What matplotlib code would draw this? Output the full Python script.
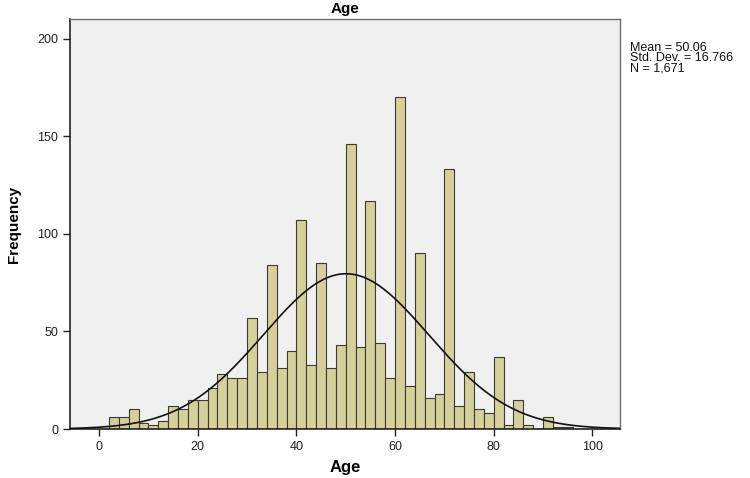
import numpy as np
import matplotlib
matplotlib.use("Agg")
import matplotlib.pyplot as plt

plt.rcParams['font.family'] = ['Liberation Sans', 'DejaVu Sans']

# histogram of Age, bins of width 2 starting at 2
bin_starts = list(range(2, 96, 2))
counts = [6, 6, 10, 3, 2, 4, 12, 10, 15, 15, 21, 28, 26, 26, 57, 29, 84, 31,
          40, 107, 33, 85, 31, 43, 146, 42, 117, 44, 26, 170, 22, 90, 16, 18,
          133, 12, 29, 10, 8, 37, 2, 15, 2, 0, 6, 1, 1]
bin_width = 2
mean = 50.06
std = 16.766
n = 1671

x_ticks = [0, 20, 40, 60, 80, 100]
y_ticks = [0, 50, 100, 150, 200]

fig = plt.figure(figsize=(7.5, 4.78), dpi=100)
ax = fig.add_axes([70 / 750, 49 / 478, 550 / 750, 410 / 478])
ax.set_facecolor('#f0f0f0')

ax.bar(bin_starts, counts, width=bin_width, align='edge',
       color='#d5d09b', edgecolor='#3a3a32', linewidth=0.8, zorder=2)

# fitted normal curve scaled to counts
xs = np.linspace(-6, 106, 400)
pdf = n * bin_width / (std * np.sqrt(2 * np.pi)) * np.exp(-0.5 * ((xs - mean) / std) ** 2)
ax.plot(xs, pdf, color='#111111', linewidth=1.2, zorder=3)

ax.set_xlim(-5.9, 105.6)
ax.set_ylim(0, 210)
ax.set_xticks(x_ticks)
ax.set_yticks(y_ticks)
ax.tick_params(direction='out', length=5, width=1, labelsize=9, colors='#222222')

for side in ['left', 'bottom']:
    ax.spines[side].set_color('#111111')
    ax.spines[side].set_linewidth(1.1)
for side in ['top', 'right']:
    ax.spines[side].set_color('#6e6e6e')
    ax.spines[side].set_linewidth(1.0)

ax.set_title('Age', fontsize=11, fontweight='bold', pad=4)
ax.set_xlabel('Age', fontsize=12, fontweight='bold', labelpad=5)
ax.set_ylabel('Frequency', fontsize=11, fontweight='bold', labelpad=12)

fig.text(630 / 750, 1 - 42 / 478,
         'Mean = 50.06\nStd. Dev. = 16.766\nN = 1,671',
         fontsize=9, va='top', ha='left', linespacing=0.82, color='#111111')

fig.savefig('out.png', dpi=100)
